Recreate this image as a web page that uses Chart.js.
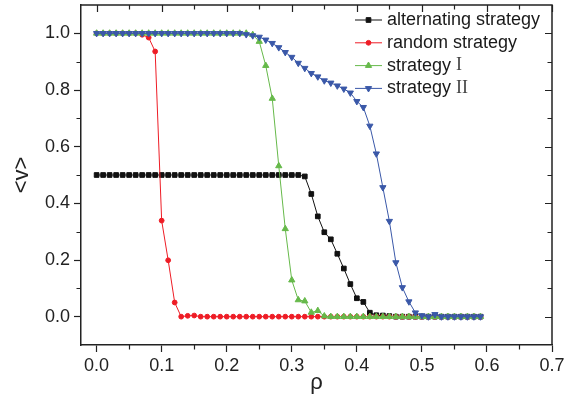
<!DOCTYPE html>
<html>
<head>
<meta charset="utf-8">
<script src="https://cdn.jsdelivr.net/npm/chart.js@4.4.1/dist/chart.umd.min.js"></script>
<style>
  body { margin: 0; background: #fff; }
</style>
</head>
<body>
<canvas id="rhoChart" width="576" height="399"></canvas>
<script>
// rho values (x)
const rho = [
  0.00, 0.01, 0.02, 0.03, 0.04, 0.05, 0.06, 0.07, 0.08, 0.09,
  0.10, 0.11, 0.12, 0.13, 0.14, 0.15, 0.16, 0.17, 0.18, 0.19,
  0.20, 0.21, 0.22, 0.23, 0.24, 0.25, 0.26, 0.27, 0.28, 0.29,
  0.30, 0.31, 0.32, 0.33, 0.34, 0.35, 0.36, 0.37, 0.38, 0.39,
  0.40, 0.41, 0.42, 0.43, 0.44, 0.45, 0.46, 0.47, 0.48, 0.49,
  0.50, 0.51, 0.52, 0.53, 0.54, 0.55, 0.56, 0.57, 0.58, 0.59
];

const alternating = [
  0.5, 0.5, 0.5, 0.5, 0.5, 0.5, 0.5, 0.5, 0.5, 0.5,
  0.5, 0.5, 0.5, 0.5, 0.5, 0.5, 0.5, 0.5, 0.5, 0.5,
  0.5, 0.5, 0.5, 0.5, 0.5, 0.5, 0.5, 0.5, 0.5, 0.5,
  0.5, 0.5, 0.495, 0.433, 0.354, 0.298, 0.273, 0.222, 0.17, 0.115,
  0.065, 0.052, 0.014, 0.005, 0.004, 0.002, 0, 0, 0, 0,
  0, 0, 0, 0, 0, 0, 0, 0, 0, 0
];

const randomStrat = [
  1, 1, 1, 1, 1, 1, 1, 0.995, 0.985, 0.936,
  0.339, 0.199, 0.05, 0, 0.003, 0.004, 0, 0, 0, 0,
  0, 0, 0, 0, 0, 0, 0, 0, 0, 0,
  0, 0, 0, 0, 0, 0, 0, 0, 0, 0,
  0, 0, 0, 0, 0, 0, 0, 0, 0, 0,
  0, 0, 0, 0, 0, 0, 0, 0, 0, 0
];

const strategy1 = [
  1, 1, 1, 1, 1, 1, 1, 1, 1, 1,
  1, 1, 1, 1, 1, 1, 1, 1, 1, 1,
  1, 1, 1, 1, 0.995, 0.971, 0.886, 0.77, 0.532, 0.31,
  0.129, 0.059, 0.055, 0.015, 0.021, 0.002, 0, 0, 0, 0,
  0, 0, 0, 0, 0, 0, 0, 0, 0, 0,
  0, 0, 0, 0, 0, 0, 0, 0, 0, 0
];

const strategy2 = [
  1, 1, 1, 1, 1, 1, 1, 1, 1, 1,
  1, 1, 1, 1, 1, 1, 1, 1, 1, 1,
  1, 1, 1, 0.996, 0.992, 0.987, 0.977, 0.965, 0.95, 0.933,
  0.916, 0.895, 0.877, 0.859, 0.847, 0.833, 0.825, 0.815, 0.804, 0.79,
  0.76, 0.739, 0.673, 0.575, 0.456, 0.337, 0.191, 0.103, 0.053, 0.014,
  0.004, 0, 0.008, 0, 0, 0, 0, 0, 0, 0
];

const xTickLabels = ['0.0', '0.1', '0.2', '0.3', '0.4', '0.5', '0.6', '0.7'];
const yTickLabels = ['0.0', '0.2', '0.4', '0.6', '0.8', '1.0'];

const FONT = "'Liberation Sans', Arial, sans-serif";
const AXIS = '#222';

function pts(values) {
    return values.map((v, i) => ({ x: rho[i], y: v }));
}

function xMajor(v) { return Math.round(v * 100) % 10 === 0; }
function yMajor(v) { return Math.round(v * 10) % 2 === 0 && v > -0.05 && v < 1.05; }
function yInside(v) { return v > -0.05 && v < 1.05; }

// legend entries (drawn by hand so the roman numerals can be serif)
const legendItems = [
    { name: 'alternating strategy', roman: '', color: '#111', style: 'rect', radius: 3.3, rot: 0 },
    { name: 'random strategy', roman: '', color: '#ee1c25', style: 'circle', radius: 2.4, rot: 0 },
    { name: 'strategy ', roman: 'I', color: '#66b94a', style: 'triangle', radius: 3.6, rot: 0 },
    { name: 'strategy ', roman: 'II', color: '#3a58a8', style: 'triangle', radius: 3.6, rot: 180 }
];

const framePlugin = {
    id: 'frame',
    afterDraw(chart) {
        const { ctx, chartArea: a, scales: { x, y } } = chart;
        ctx.save();
        ctx.strokeStyle = AXIS;
        ctx.lineWidth = 1.5;
        ctx.beginPath();
        ctx.moveTo(a.left, a.top);
        ctx.lineTo(a.right, a.top);
        ctx.lineTo(a.right, a.bottom);
        ctx.stroke();

        ctx.lineWidth = 1.2;
        ctx.beginPath();
        x.ticks.forEach(t => {
            const px = Math.round(x.getPixelForValue(t.value)) + 0.5;
            const major = xMajor(t.value);
            ctx.moveTo(px, a.top);
            ctx.lineTo(px, a.top + (major ? 7 : 4.5));
            if (!major) {
                ctx.moveTo(px, a.bottom);
                ctx.lineTo(px, a.bottom + 4.5);
            }
        });
        y.ticks.forEach(t => {
            if (!yInside(t.value)) return;
            const py = Math.round(y.getPixelForValue(t.value)) + 0.5;
            const major = yMajor(t.value);
            ctx.moveTo(a.right, py);
            ctx.lineTo(a.right - (major ? 7 : 4.5), py);
            if (!major) {
                ctx.moveTo(a.left, py);
                ctx.lineTo(a.left - 4.5, py);
            }
        });
        ctx.stroke();

        // legend
        const lx = 355, tx = 387;
        legendItems.forEach((it, i) => {
            const ly = 20 + i * 22.8;
            ctx.strokeStyle = it.color;
            ctx.lineWidth = 1;
            ctx.beginPath();
            ctx.moveTo(lx, ly);
            ctx.lineTo(lx + 27, ly);
            ctx.stroke();
            ctx.fillStyle = it.color;
            ctx.strokeStyle = it.color;
            Chart.helpers.drawPoint(ctx, { pointStyle: it.style, radius: it.radius, rotation: it.rot, borderWidth: 1 }, lx + 13.5, ly);
            ctx.fillStyle = '#1a1a1a';
            ctx.textBaseline = 'middle';
            ctx.textAlign = 'left';
            ctx.font = '18px ' + FONT;
            ctx.fillText(it.name, tx, ly);
            if (it.roman) {
                const w = ctx.measureText(it.name).width;
                ctx.fillStyle = '#444';
                ctx.font = "18px 'Liberation Serif', 'Times New Roman', serif";
                ctx.fillText(it.roman, tx + w, ly);
            }
        });
        ctx.restore();
    }
};

const ctx = document.getElementById('rhoChart').getContext('2d');

new Chart(ctx, {
    type: 'line',
    data: {
        datasets: [
            {
                label: 'alternating strategy',
                data: pts(alternating),
                borderColor: '#111',
                backgroundColor: '#111',
                pointStyle: 'rect',
                pointRadius: 3.3,
                borderWidth: 1,
                order: 4
            },
            {
                label: 'random strategy',
                data: pts(randomStrat),
                borderColor: '#ee1c25',
                backgroundColor: '#ee1c25',
                pointStyle: 'circle',
                pointRadius: 2.4,
                borderWidth: 1,
                order: 3
            },
            {
                label: 'strategy I',
                data: pts(strategy1),
                borderColor: '#66b94a',
                backgroundColor: '#66b94a',
                pointStyle: 'triangle',
                pointRadius: 3.6,
                borderWidth: 1,
                order: 2
            },
            {
                label: 'strategy II',
                data: pts(strategy2),
                borderColor: '#3a58a8',
                backgroundColor: '#3a58a8',
                pointStyle: 'triangle',
                pointRotation: 180,
                pointRadius: 3.6,
                borderWidth: 1,
                order: 1
            }
        ]
    },
    options: {
        responsive: false,
        animation: false,
        layout: { padding: { top: 3, right: 24, left: 0, bottom: 0 } },
        plugins: {
            legend: { display: false },
            tooltip: { enabled: false }
        },
        scales: {
            x: {
                type: 'linear',
                min: -0.024,
                max: 0.7,
                afterFit(scale) {
                    scale.height = 54;
                    scale.paddingLeft = 0;
                    scale.paddingRight = 0;
                },
                border: { display: true, color: AXIS, width: 1.5 },
                grid: {
                    drawOnChartArea: false,
                    drawTicks: true,
                    tickLength: 7,
                    tickWidth: 1.2,
                    tickColor: c => xMajor(c.tick.value) ? AXIS : 'rgba(0,0,0,0)'
                },
                ticks: {
                    stepSize: 0.05,
                    includeBounds: false,
                    autoSkip: false,
                    maxRotation: 0,
                    padding: 3,
                    color: '#222',
                    font: { family: FONT, size: 18 },
                    callback: v => xMajor(v) ? xTickLabels[Math.round(v * 10)] : ''
                },
                title: {
                    display: true,
                    text: 'ρ',
                    color: '#222',
                    font: { family: FONT, size: 22 },
                    padding: { top: 0, bottom: 3 }
                }
            },
            y: {
                type: 'linear',
                min: -0.1,
                max: 1.1,
                afterFit(scale) {
                    scale.width = 81;
                    scale.paddingTop = 0;
                    scale.paddingBottom = 0;
                },
                border: { display: true, color: AXIS, width: 1.5 },
                grid: {
                    drawOnChartArea: false,
                    drawTicks: true,
                    tickLength: 7,
                    tickWidth: 1.2,
                    tickColor: c => yMajor(c.tick.value) ? AXIS : 'rgba(0,0,0,0)'
                },
                ticks: {
                    stepSize: 0.1,
                    includeBounds: false,
                    autoSkip: false,
                    padding: 4,
                    color: '#222',
                    font: { family: FONT, size: 18 },
                    callback: v => yMajor(v) ? yTickLabels[Math.round(v * 5)] : ''
                },
                title: {
                    display: true,
                    text: '<v>',
                    color: '#222',
                    font: { family: FONT, size: 22 },
                    padding: { top: 9, bottom: 0 }
                }
            }
        }
    },
    plugins: [framePlugin]
});
</script>
</body>
</html>
